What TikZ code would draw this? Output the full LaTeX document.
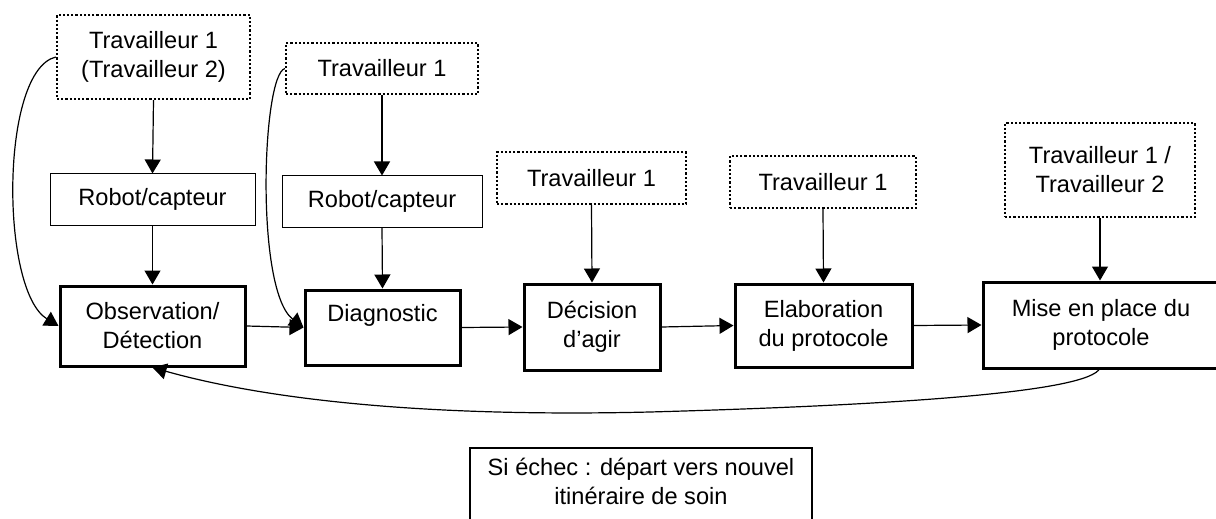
\documentclass[tikz,border=0pt]{standalone}
\usepackage{fontspec}
\setmainfont{Liberation Sans}
\usetikzlibrary{arrows.meta}
\begin{document}
\begin{tikzpicture}[x=0.5pt,y=-0.5pt,
  every node/.style={font=\fontsize{11.8}{14.5}\selectfont, align=center, inner sep=0pt},
  mainbox/.style={draw, line width=1.5pt},
  robotbox/.style={draw, line width=0.5pt},
  workerbox/.style={draw, line width=1.1pt, dash pattern=on 1.1pt off 1pt},
  conn/.style={line width=0.6pt, -{Triangle[length=7pt,width=8pt]}}]
\useasboundingbox (0,0) rectangle (1216,519);
% workers
\node[workerbox, minimum width=96.5pt, minimum height=42pt] (t1a) at (153.5,57) {Travailleur 1\\(Travailleur 2)};
\node[workerbox, minimum width=96pt, minimum height=25.5pt] (t1b) at (382,68.5) {Travailleur 1};
\node[workerbox, minimum width=94.5pt, minimum height=26pt] (t3) at (591.5,178) {Travailleur 1};
\node[workerbox, minimum width=93pt, minimum height=26pt] (t4) at (823,182) {Travailleur 1};
\node[workerbox, minimum width=95pt, minimum height=47pt] (t5) at (1100,170) {Travailleur 1 /\\Travailleur 2};
% robots
\node[robotbox, minimum width=102.5pt, minimum height=25.5pt] (r1) at (152.5,199.5) {Robot/capteur};
\node[robotbox, minimum width=100pt, minimum height=25.5pt] (r2) at (382,201.5) {Robot/capteur};
% main steps
\node[mainbox, minimum width=92.5pt, minimum height=40pt] (obs) at (152.5,326) {Observation/\\Détection};
\node[mainbox, minimum width=77.5pt, minimum height=37.5pt] (diag) at (382.5,327.5) {Diagnostic\\\mbox{}};
\node[mainbox, minimum width=68pt, minimum height=43pt] (dec) at (592,327) {Décision\\d’agir};
\node[mainbox, minimum width=88.5pt, minimum height=41.5pt] (elab) at (823.5,325.5) {Elaboration\\du protocole};
\node[mainbox, minimum width=122pt, minimum height=43pt] (mise) at (1105,325) {\hspace*{-4pt}Mise en place du\\\hspace*{-4pt}protocole};
% bottom
\node[mainbox, line width=1pt, minimum width=171pt, minimum height=46pt] (echec) at (641,494) {};
\node (echectxt) at (641,481) {Si échec : départ vers nouvel\\itinéraire de soin};
% vertical arrows
\draw[conn] (t1a.south) -- (r1.north);
\draw[conn] (r1.south) -- (obs.north);
\draw[conn] (t1b.south) -- (r2.north);
\draw[conn] (r2.south) -- (diag.north);
\draw[conn] (t3.south) -- (dec.north);
\draw[conn] (t4.south) -- (elab.north);
\draw[conn] (t5.south) -- (t5.south |- mise.north);
% horizontal arrows
\draw[conn] (obs.east) -- (diag.west);
\draw[conn] (diag.east) -- (dec.west);
\draw[conn] (dec.east) -- (elab.west);
\draw[conn] (elab.east) -- (mise.west);
% curved arrows
\draw[conn] (t1a.west) .. controls (0,70) and (0,290) .. (obs.west);
\draw[conn] (t1b.west) .. controls (262,75) and (255,290) .. (diag.west);
\coordinate (misebot) at (1100,368);
\coordinate (ret) at (650,412);
\draw[conn] (misebot) .. controls (1090,392) and (900,405) .. (ret) .. controls (400,418) and (250,395) .. (obs.south);
\end{tikzpicture}
\end{document}
